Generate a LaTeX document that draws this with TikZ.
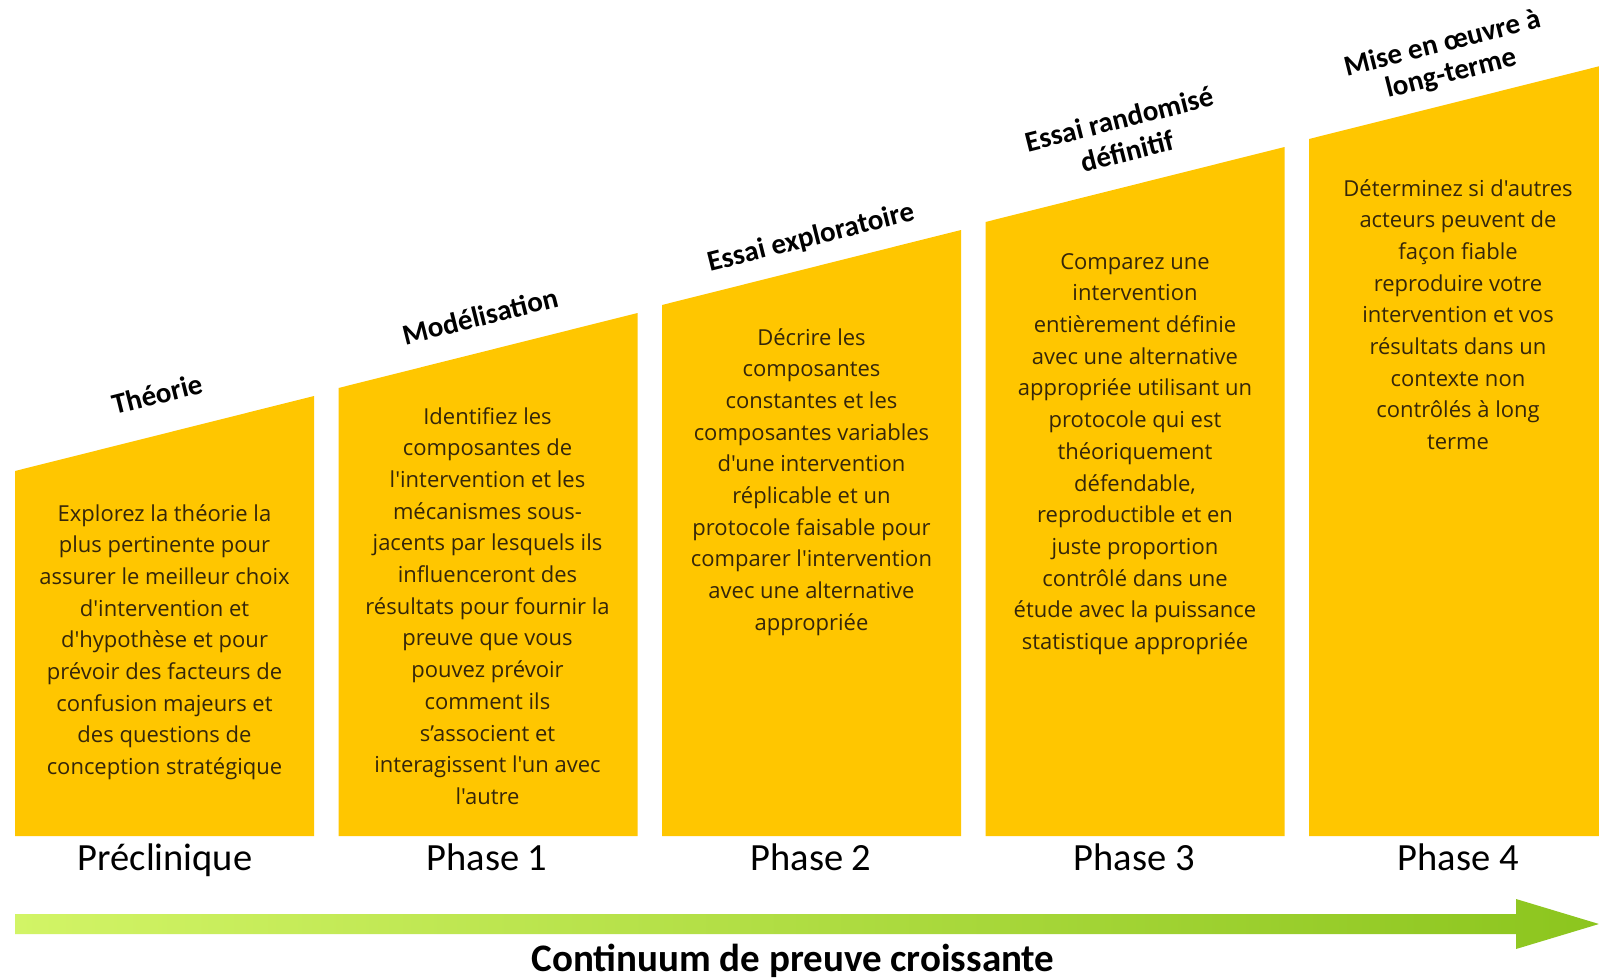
\documentclass[tikz,border=0pt]{standalone}
\usepackage{fontspec}
\setmainfont{Carlito}[Ligatures=TeXOff]
\newfontfamily\bodyfont{Open Sans}[Ligatures=TeXOff]
\definecolor{gold}{HTML}{FFC600}
\definecolor{bodyc}{HTML}{35260A}
\definecolor{arrowL}{HTML}{D2F466}
\definecolor{arrowR}{HTML}{8CC51E}
\tikzset{
  box/.style={fill=gold},
  body/.style={align=center, text=bodyc, font=\bodyfont\fontsize{22}{31.7}\selectfont, inner sep=0pt, anchor=north},
  ttl/.style={font=\bfseries\fontsize{29}{31}\selectfont, rotate=14.1, inner sep=0pt},
  phase/.style={font=\fontsize{38.5}{40}\selectfont, inner sep=0pt, anchor=base},
}
\begin{document}
\begin{tikzpicture}[x=1pt,y=-1pt]
\useasboundingbox (0,0) rectangle (1599,980);
\fill[white] (0,0) rectangle (1599,980);
% boxes
\fill[box] (15,471) -- (314,396) -- (314,836) -- (15,836) -- cycle;
\fill[box] (338.5,388) -- (637.5,313) -- (637.5,836) -- (338.5,836) -- cycle;
\fill[box] (662,305) -- (961,230) -- (961,836) -- (662,836) -- cycle;
\fill[box] (985.5,222) -- (1284.5,147) -- (1284.5,836) -- (985.5,836) -- cycle;
\fill[box] (1309,139) -- (1599,66.3) -- (1599,836) -- (1309,836) -- cycle;
% titles
\node[ttl] (t0) at (157,394) {Théorie};
\node[ttl] (t1) at (480,316) {Modélisation};
\node[ttl] (t2) at (811,238) {Essai exploratoire};
\node[ttl] (t3a) at (1119,119) {Essai randomisé};
\node[ttl] (t3b) at (1127,151) {définitif};
\node[ttl] (t4a) at (1442,42) {Mise en œuvre à};
\node[ttl] (t4b) at (1451,74) {long-terme};
% body texts
\node[body] (b0) at (164.5,504) {Explorez la théorie la\\plus pertinente pour\\assurer le meilleur choix\\d'intervention et\\d'hypothèse et pour\\prévoir des facteurs de\\confusion majeurs et\\des questions de\\conception stratégique};
\node[body] (b1) at (487.5,407) {Identifiez les\\composantes de\\l'intervention et les\\mécanismes sous-\\jacents par lesquels ils\\influenceront des\\résultats pour fournir la\\preuve que vous\\pouvez prévoir\\comment ils\\s’associent et\\interagissent l'un avec\\l'autre};
\node[body] (b2) at (811.5,328) {Décrire les\\composantes\\constantes et les\\composantes variables\\d'une intervention\\réplicable et un\\protocole faisable pour\\comparer l'intervention\\avec une alternative\\appropriée};
\node[body] (b3) at (1135,253) {Comparez une\\intervention\\entièrement définie\\avec une alternative\\appropriée utilisant un\\protocole qui est\\théoriquement\\défendable,\\reproductible et en\\juste proportion\\contrôlé dans une\\étude avec la puissance\\statistique appropriée};
\node[body] (b4) at (1458,179) {Déterminez si d'autres\\acteurs peuvent de\\façon fiable\\reproduire votre\\intervention et vos\\résultats dans un\\contexte non\\contrôlés à long\\terme};
% phases
\node[phase] (p0) at (165,870) {Préclinique};
\node[phase] (p1) at (487,870) {Phase 1};
\node[phase] (p2) at (811,870) {Phase 2};
\node[phase] (p3) at (1134,870) {Phase 3};
\node[phase] (p4) at (1458,870) {Phase 4};
% arrow
\shade[left color=arrowL, right color=arrowR] (15,914) -- (1516,914) -- (1516,899) -- (1599,924) -- (1516,949) -- (1516,934) -- (15,934) -- cycle;
\node[font=\bfseries\fontsize{39}{41}\selectfont, inner sep=0pt, anchor=base] (cap) at (793,971) {Continuum de preuve croissante};
\end{tikzpicture}
\end{document}
